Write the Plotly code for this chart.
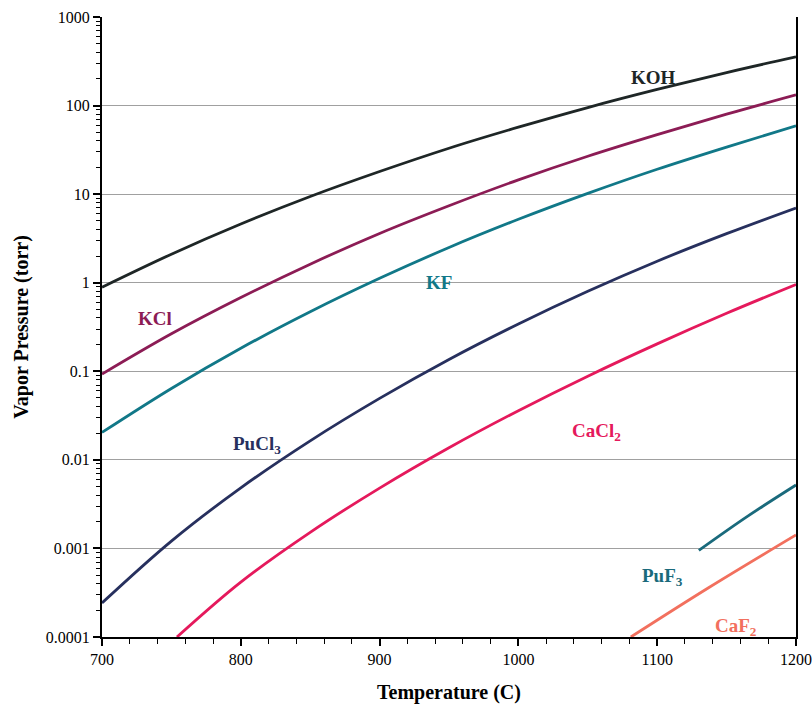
import plotly.graph_objects as go

# ---- data ----
temps_main = [700, 750, 800, 850, 900, 950, 1000, 1050, 1100, 1150, 1200]
koh = [0.89, 2.1, 4.6, 9.4, 18.0, 33.0, 57.0, 95.0, 152.0, 236.0, 355.0]
kcl = [0.093, 0.265, 0.68, 1.62, 3.6, 7.4, 14.5, 26.8, 47.0, 80.0, 132.0]
kf = [0.0204, 0.064, 0.182, 0.47, 1.12, 2.5, 5.2, 10.2, 19.1, 34.0, 59.0]
pucl3 = [0.000242, 0.00121, 0.00483, 0.0164, 0.0494, 0.136, 0.342, 0.80, 1.75, 3.58, 6.98]

temps_cacl2 = [754, 800, 850, 900, 950, 1000, 1050, 1100, 1150, 1200]
cacl2 = [0.0001, 0.000417, 0.00152, 0.0048, 0.0137, 0.0359, 0.0881, 0.204, 0.452, 0.955]

temps_puf3 = [1130, 1165, 1200]
puf3 = [0.00095, 0.0023, 0.0052]

temps_caf2 = [1081, 1137, 1200]
caf2 = [0.0001, 0.00036, 0.00142]

ytick_vals = [0.0001, 0.001, 0.01, 0.1, 1, 10, 100, 1000]
ytick_text = ["0.0001", "0.001", "0.01", "0.1", "1", "10", "100", "1000"]
yminor_vals = [m * d for d in [0.0001, 0.001, 0.01, 0.1, 1, 10, 100] for m in range(2, 10)]

series = [
    ("KOH", temps_main, koh, "#1e2626", 1097, 2.32),
    ("KCl", temps_main, kcl, "#8c1c55", 738, -0.40),
    ("KF", temps_main, kf, "#117888", 943, 0.0),
    ("PuCl<sub>3</sub>", temps_main, pucl3, "#27305e", 812, -1.83),
    ("CaCl<sub>2</sub>", temps_cacl2, cacl2, "#e5195c", 1056, -1.69),
    ("PuF<sub>3</sub>", temps_puf3, puf3, "#1a6a7c", 1104, -3.32),
    ("CaF<sub>2</sub>", temps_caf2, caf2, "#f2705e", 1157, -3.89),
]

font_family = "Liberation Serif, Times New Roman, serif"

fig = go.Figure()
annotations = []
for name, xs, ys, color, ax, ay in series:
    fig.add_trace(go.Scatter(x=xs, y=ys, mode="lines",
                             line=dict(color=color, width=2.8, shape="spline", smoothing=1.0),
                             name=name, showlegend=False, hoverinfo="skip"))
    annotations.append(dict(x=ax, y=ay, xref="x", yref="y", text="<b>" + name + "</b>", showarrow=False,
                            font=dict(family=font_family, size=19, color=color)))

fig.update_layout(
    width=812, height=715,
    margin=dict(l=102, r=16, t=17, b=78),
    paper_bgcolor="white", plot_bgcolor="white",
    font=dict(family=font_family, size=16, color="black"),
    annotations=annotations,
)

fig.update_xaxes(
    range=[700, 1200], dtick=100, tick0=700, automargin=False,
    showline=True, linecolor="black", linewidth=2,
    ticks="outside", ticklen=7, tickwidth=1.5, tickcolor="black",
    minor=dict(ticks="outside", ticklen=5, dtick=20, tickcolor="black", tickwidth=1.2, showgrid=False),
    showgrid=False, zeroline=False,
    tickfont=dict(family=font_family, size=16, color="black"),
    title=dict(text="<b>Temperature (C)</b>", font=dict(family=font_family, size=20, color="black"), standoff=18),
)

fig.update_yaxes(
    type="log", range=[-4, 3], automargin=False,
    tickmode="array", tickvals=ytick_vals, ticktext=ytick_text,
    showline=True, linecolor="black", linewidth=2, mirror=True,
    ticks="outside", ticklen=7, tickwidth=1.5, tickcolor="black",
    minor=dict(ticks="outside", ticklen=4, tickmode="array", tickvals=yminor_vals,
               tickcolor="black", tickwidth=1.2, showgrid=False),
    showgrid=True, gridcolor="#a0a0a0", gridwidth=1,
    zeroline=False,
    tickfont=dict(family=font_family, size=16, color="black"),
    title=dict(text="<b>Vapor Pressure (torr)</b>", font=dict(family=font_family, size=20, color="black"), standoff=12),
)

fig.write_html("out.html")
